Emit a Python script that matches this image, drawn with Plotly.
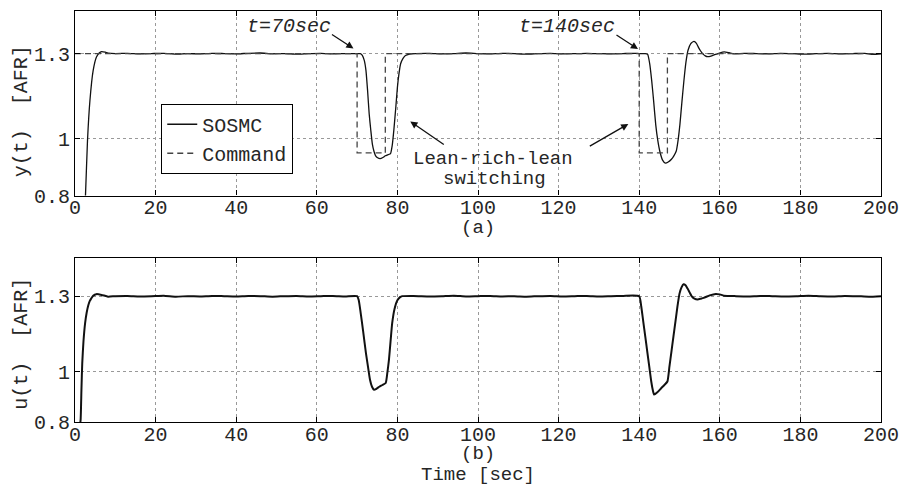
import plotly.graph_objects as go

# ---------------- data ----------------
t_cmd = [0, 70, 70, 77, 77, 140, 140, 147, 147, 200]
cmd = [1.3, 1.3, 0.95, 0.95, 1.3, 1.3, 0.95, 0.95, 1.3, 1.3]

t_y = [2.4, 2.6, 3.1, 3.7, 4.5, 5.3, 6.0, 6.6, 7.5, 8.2, 10, 13, 16, 19, 22, 25, 28, 31, 34,
       37, 40, 43, 46, 49, 52, 55, 58, 61, 64, 67, 70, 70.8, 71.3, 71.8, 72.2, 72.6, 73.0,
       73.4, 73.8, 74.2, 74.6, 75.1, 75.7, 76.4, 77.0, 77.7, 78.3, 78.7, 79.1, 79.6, 80.0,
       80.4, 80.8, 81.4, 82.0, 83.0, 84.5, 88, 91, 94, 97, 100, 103, 106, 109,
       112, 115, 118, 121, 124, 127, 130, 133, 136, 139, 140, 141.5, 142.1, 142.6, 143.1,
       143.6, 144.1, 144.6, 145.1, 145.8, 146.5, 147.2, 148.0, 148.6, 149.2, 149.6, 150.1,
       150.6, 151.1, 151.6, 152.1, 152.8, 153.6, 154.2, 154.7, 155.2, 155.8, 156.4, 157.0,
       157.8, 158.7, 159.9, 161.1, 162.3, 163.5, 166, 169, 172, 175, 178, 181, 184, 187,
       190, 193, 196, 198, 200]
y_sosmc = [0.75, 0.80, 0.993, 1.134, 1.24, 1.287, 1.302, 1.307, 1.305, 1.302, 1.300, 1.301,
           1.299, 1.300, 1.301, 1.298, 1.300, 1.299, 1.301, 1.300, 1.299, 1.301, 1.302, 1.299,
           1.300, 1.298, 1.300, 1.301, 1.299, 1.300, 1.300, 1.300, 1.294, 1.275, 1.24, 1.17,
           1.087, 1.03, 0.98, 0.955, 0.94, 0.933, 0.930, 0.934, 0.940, 0.944, 0.948, 0.975,
           1.028, 1.11, 1.181, 1.23, 1.264, 1.283, 1.293, 1.298, 1.300, 1.301, 1.299, 1.300,
           1.302, 1.300, 1.299, 1.301, 1.300, 1.298, 1.300, 1.301, 1.299, 1.300, 1.301, 1.300,
           1.299, 1.300, 1.301, 1.300, 1.300, 1.297, 1.265, 1.205, 1.13, 1.05, 0.995, 0.957,
           0.925, 0.914, 0.918, 0.928, 0.940, 0.957, 0.99, 1.05, 1.13, 1.205, 1.27, 1.311,
           1.335, 1.343, 1.336, 1.322, 1.31, 1.299, 1.292, 1.289, 1.291, 1.296, 1.302, 1.306,
           1.303, 1.299, 1.301, 1.300, 1.299, 1.301, 1.300, 1.298, 1.300, 1.301, 1.299, 1.300,
           1.301, 1.297, 1.299]

t_u = [1.2, 1.4, 1.6, 1.8, 2.1, 2.5, 2.9, 3.3, 3.7, 4.0, 4.5, 5.3, 6.6, 8.2, 10, 13, 16, 19,
       22, 25, 28, 31, 34, 37, 40, 43, 46, 49, 52, 55, 58, 61, 64, 67, 70, 70.4, 70.9, 71.5,
       72.2, 72.7, 73.2, 73.7, 74.2, 74.8, 75.5, 76.3, 77.1, 77.5, 77.9, 78.3, 78.7, 79.3,
       80.0, 80.6, 81.2, 84, 88, 91, 94, 97, 100, 103, 106, 109, 112, 115, 118, 121,
       124, 127, 130, 133, 136, 140, 140.5, 141, 141.5, 142, 142.5, 143, 143.4, 143.7, 144.5,
       145.5, 146.3, 147, 147.5, 148, 148.5, 149, 149.5, 150, 150.5, 151, 151.5, 152, 152.5,
       153, 153.7, 154.5, 155.3, 156, 157.5, 159, 160, 161, 164, 167, 170, 173, 176, 179,
       182, 185, 188, 191, 194, 197, 200]
u_sosmc = [0.78, 0.81, 0.93, 1.034, 1.12, 1.192, 1.235, 1.264, 1.282, 1.29, 1.302, 1.308,
           1.305, 1.298, 1.300, 1.301, 1.299, 1.300, 1.302, 1.298, 1.300, 1.299, 1.301, 1.300,
           1.299, 1.301, 1.300, 1.298, 1.300, 1.301, 1.299, 1.300, 1.301, 1.299, 1.300, 1.285,
           1.232, 1.16, 1.073, 1.02, 0.968, 0.94, 0.928, 0.932, 0.94, 0.947, 0.955, 0.995,
           1.047, 1.12, 1.192, 1.25, 1.284, 1.295, 1.300, 1.301, 1.299, 1.300, 1.302, 1.299,
           1.300, 1.301, 1.299, 1.300, 1.298, 1.300, 1.301, 1.299, 1.300, 1.301, 1.299, 1.300,
           1.301, 1.300, 1.26, 1.2, 1.14, 1.08, 1.02, 0.96, 0.925, 0.909, 0.918, 0.935, 0.948,
           0.961, 1.02, 1.08, 1.14, 1.2, 1.26, 1.31, 1.335, 1.347, 1.343, 1.33, 1.315, 1.30,
           1.29, 1.287, 1.29, 1.293, 1.303, 1.309, 1.307, 1.302, 1.300, 1.299, 1.301, 1.300,
           1.299, 1.300, 1.302, 1.300, 1.299, 1.301, 1.300, 1.298, 1.300]

x_ticks = [0, 20, 40, 60, 80, 100, 120, 140, 160, 180, 200]
y_ticks = [0.8, 1.0, 1.3]
y_tick_text = ["0.8", "1", "1.3"]

# ---------------- layout helpers ----------------
W, H = 909, 487
ML, MR, MT, MB = 75, 21, 10, 65
PW, PH = W - ML - MR, H - MT - MB


def px_x(px):
    return (px - ML) / PW


def px_y(py):
    return (H - MB - py) / PH


FONT = "Liberation Mono, Courier New, monospace"
TXT = "#262626"

fig = go.Figure()
fig.add_trace(go.Scatter(x=t_y, y=y_sosmc, mode="lines", name="SOSMC",
                         line=dict(color="#111111", width=1.3, shape="spline", smoothing=0.5),
                         xaxis="x", yaxis="y"))
fig.add_trace(go.Scatter(x=t_cmd, y=cmd, mode="lines", name="Command",
                         line=dict(color="#444444", width=1.3, dash="6px,4px"), xaxis="x", yaxis="y"))
fig.add_trace(go.Scatter(x=t_u, y=u_sosmc, mode="lines", name="u", showlegend=False,
                         line=dict(color="#111111", width=2.0, shape="spline", smoothing=0.5),
                         xaxis="x2", yaxis="y2"))

axis_common = dict(showline=True, linecolor="black", linewidth=1.2, mirror="ticks",
                   ticks="inside", ticklen=5, tickcolor="black", tickwidth=1,
                   showgrid=True, gridcolor="#999999", griddash="dot", gridwidth=1,
                   zeroline=False, tickfont=dict(family=FONT, size=20, color=TXT))

top_dom = [px_y(195), 1.0]
bot_dom = [0.0, px_y(258)]

fig.update_layout(
    width=W, height=H,
    margin=dict(l=ML, r=MR, t=MT, b=MB),
    paper_bgcolor="white", plot_bgcolor="white",
    font=dict(family=FONT, size=20, color=TXT),
    xaxis=dict(domain=[0, 1], range=[0, 200], tickvals=x_ticks, anchor="y",
               ticklabelstandoff=-7, **axis_common),
    yaxis=dict(domain=top_dom, range=[0.8, 1.45], tickvals=y_ticks, ticktext=y_tick_text,
               anchor="x", **axis_common),
    xaxis2=dict(domain=[0, 1], range=[0, 200], tickvals=x_ticks, anchor="y2",
                ticklabelstandoff=-6, **axis_common),
    yaxis2=dict(domain=bot_dom, range=[0.8, 1.45], tickvals=y_ticks, ticktext=y_tick_text,
                anchor="x2", **axis_common),
    legend=dict(x=px_x(162), y=px_y(103), xanchor="left", yanchor="top",
                bgcolor="white", bordercolor="black", borderwidth=1,
                font=dict(family=FONT, size=20, color=TXT), tracegroupgap=0),
    showlegend=True,
)

ann = []


def text_ann(text, px, py, italic=False, angle=0, size=20):
    t = f"<i>{text}</i>" if italic else text
    ann.append(dict(text=t, x=px_x(px), y=px_y(py), xref="paper", yref="paper",
                    showarrow=False, xanchor="center", yanchor="middle", textangle=angle,
                    font=dict(family=FONT, size=size, color=TXT)))


def arrow(xd, yd, ax, ay, xr="x", yr="y"):
    ann.append(dict(text="", x=xd, y=yd, xref=xr, yref=yr, ax=ax, ay=ay,
                    showarrow=True, arrowhead=2, arrowsize=1.1, arrowwidth=1.3,
                    arrowcolor="#111111", standoff=0))


text_ann("y(t)\u00a0\u00a0[AFR]", 21, 110, angle=-90)
text_ann("u(t)\u00a0\u00a0[AFR]", 21, 343, angle=-90)
text_ann("(a)", 481, 228, size=19)
text_ann("(b)", 481, 454, size=19)
text_ann("Time\u00a0[sec]", 481, 475.5, size=19)
text_ann("t=70sec", 291, 26, italic=True)
text_ann("t=140sec", 571, 26, italic=True)
text_ann("Lean-rich-lean", 497, 158, size=19)
text_ann("switching", 498, 178, size=19)

arrow(69.1, 1.318, -23, -15)
arrow(139.7, 1.316, -23, -15)
arrow(83.2, 1.061, 35, 24)
arrow(137.3, 1.052, -40, 23)

fig.update_layout(annotations=ann)

fig.write_html("out.html")
